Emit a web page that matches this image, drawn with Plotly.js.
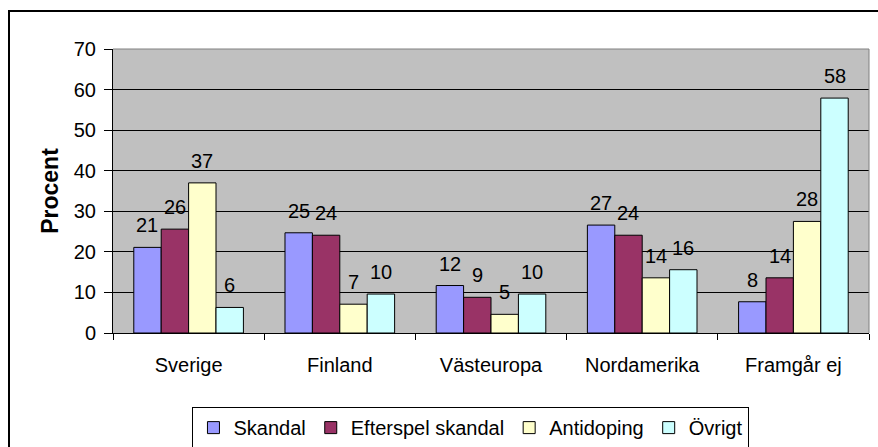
<!DOCTYPE html>
<html>
<head>
<meta charset="utf-8">
<script src="https://cdn.plot.ly/plotly-3.0.1.min.js"></script>
<style>
  html, body { margin: 0; padding: 0; overflow: hidden; background: #ffffff; }
  #chart { width: 878px; height: 447px; position: relative; }
  #frame { position: absolute; left: 8px; top: 10px; width: 2000px; height: 2000px;
           border-left: 2px solid #000; border-top: 2px solid #000; pointer-events: none; z-index: 5; }
</style>
</head>
<body>
<div id="chart"></div>
<div id="frame"></div>
<script>
// ---- data ----
var categories = ["Sverige", "Finland", "Västeuropa", "Nordamerika", "Framgår ej"];
var seriesNames = ["Skandal", "Efterspel skandal", "Antidoping", "Övrigt"];
var skandal    = [21.1, 24.7, 11.7, 26.6, 7.7];
var efterspel  = [25.6, 24.1, 8.8, 24.1, 13.6];
var antidoping = [37.0, 7.1, 4.6, 13.6, 27.5];
var ovrigt     = [6.3, 9.6, 9.6, 15.6, 57.9];
var yTickVals  = [0, 10, 20, 30, 40, 50, 60, 70];

// ---- style ----
var colors = ["#9999FF", "#993366", "#FFFFCC", "#CCFFFF"];
var FONT = "Liberation Sans, Arial, sans-serif";
var allSeries = [skandal, efterspel, antidoping, ovrigt];

var margin = {l: 113, r: 9, t: 49, b: 114, autoexpand: false};
var bargap = 0.275;
var plotW = 878 - margin.l - margin.r;
var barW = plotW / categories.length * (1 - bargap) / allSeries.length;

var traces = allSeries.map(function (vals, i) {
  return {
    type: "bar",
    name: seriesNames[i],
    x: categories,
    y: vals,
    marker: {color: colors[i], line: {color: "#000000", width: 1}},
    hoverinfo: "skip"
  };
});

var annotations = [];
allSeries.forEach(function (vals, i) {
  vals.forEach(function (v, j) {
    annotations.push({
      x: categories[j], y: v, xref: "x", yref: "y",
      text: String(Math.round(v)),
      showarrow: false,
      xanchor: "center", yanchor: "bottom",
      xshift: (i - (allSeries.length - 1) / 2) * barW,
      yshift: 9,
      font: {family: FONT, size: 20, color: "#000000"}
    });
  });
});

var layout = {
  width: 878, height: 447,
  margin: margin,
  paper_bgcolor: "#ffffff",
  plot_bgcolor: "#C0C0C0",
  barmode: "group",
  bargap: bargap,
  bargroupgap: 0,
  showlegend: true,
  legend: {
    orientation: "h",
    x: 0.4735, xanchor: "center",
    y: -0.261, yanchor: "top",
    bordercolor: "#000000", borderwidth: 1,
    bgcolor: "#ffffff",
    font: {family: FONT, size: 20, color: "#000000"},
    itemwidth: 30,
    traceorder: "normal"
  },
  xaxis: {
    type: "category",
    automargin: false,
    tickson: "boundaries",
    ticks: "outside", ticklen: 6, tickcolor: "#000000", tickwidth: 1,
    showline: true, linecolor: "#000000", linewidth: 1,
    showgrid: false, zeroline: false,
    tickfont: {family: FONT, size: 20, color: "#000000"},
    ticklabelstandoff: 14,
    fixedrange: true
  },
  yaxis: {
    range: [0, 70],
    automargin: false,
    tickvals: yTickVals,
    ticks: "outside", ticklen: 8, tickcolor: "#000000", tickwidth: 1,
    showline: true, linecolor: "#000000", linewidth: 1,
    showgrid: true, gridcolor: "#000000", gridwidth: 1,
    zeroline: false,
    tickfont: {family: FONT, size: 20, color: "#000000"},
    ticklabelstandoff: 4,
    title: {text: "Procent", standoff: 8, font: {family: FONT, size: 23, color: "#000000", weight: "bold"}},
    fixedrange: true
  },
  shapes: [
    {type: "line", xref: "paper", yref: "paper", x0: 0, x1: 1, y0: 1, y1: 1, line: {color: "#808080", width: 1}},
    {type: "line", xref: "paper", yref: "paper", x0: 1, x1: 1, y0: 0, y1: 1, line: {color: "#808080", width: 1}}
  ],
  annotations: annotations
};

Plotly.newPlot("chart", traces, layout, {displayModeBar: false, staticPlot: true});
</script>
</body>
</html>
